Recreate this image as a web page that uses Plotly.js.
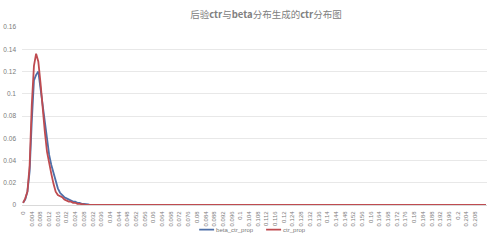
<!DOCTYPE html>
<html>
<head>
<meta charset="utf-8">
<script src="https://cdn.plot.ly/plotly-3.0.1.min.js"></script>
<style>
  html, body { margin: 0; padding: 0; background: #ffffff; }
  #chart { width: 488px; height: 243px; }
</style>
</head>
<body>
<div id="chart"></div>
<script>
// ctr buckets, 0.001 wide, from 0 to 0.213
const ctrBuckets = Array.from({ length: 214 }, (_, i) => +(i * 0.001).toFixed(3));

// labelled buckets on the horizontal axis
const tickLabels = [
  '0', '0.004', '0.008', '0.012', '0.016', '0.02', '0.024', '0.028', '0.032', '0.036',
  '0.04', '0.044', '0.048', '0.052', '0.056', '0.06', '0.064', '0.068', '0.072', '0.076',
  '0.08', '0.084', '0.088', '0.092', '0.096', '0.1', '0.104', '0.108', '0.112', '0.116',
  '0.12', '0.124', '0.128', '0.132', '0.136', '0.14', '0.144', '0.148', '0.152', '0.156',
  '0.16', '0.164', '0.168', '0.172', '0.176', '0.18', '0.184', '0.188', '0.192', '0.196',
  '0.2', '0.204', '0.208'
];
const tickValues = tickLabels.map(Number);

// share of samples in each bucket, beta-generated ctr
const betaCtrProp = [
  0.002, 0.005, 0.012, 0.030, 0.075, 0.112, 0.117, 0.120, 0.105, 0.090,
  0.073, 0.058, 0.045, 0.036, 0.029, 0.022, 0.015, 0.011, 0.009, 0.007,
  0.006, 0.005, 0.004, 0.003, 0.003, 0.002, 0.002, 0.001, 0.001, 0.001,
  0.0005, 0, 0, 0, 0, 0, 0, 0, 0, 0,
  0, 0, 0, 0, 0, 0, 0, 0, 0, 0, 0, 0, 0, 0, 0, 0, 0, 0, 0, 0,
  0, 0, 0, 0, 0, 0, 0, 0, 0, 0, 0, 0, 0, 0, 0, 0, 0, 0, 0, 0,
  0, 0, 0, 0, 0, 0, 0, 0, 0, 0, 0, 0, 0, 0, 0, 0, 0, 0, 0, 0,
  0, 0, 0, 0, 0, 0, 0, 0, 0, 0, 0, 0, 0, 0, 0, 0, 0, 0, 0, 0,
  0, 0, 0, 0, 0, 0, 0, 0, 0, 0, 0, 0, 0, 0, 0, 0, 0, 0, 0, 0,
  0, 0, 0, 0, 0, 0, 0, 0, 0, 0, 0, 0, 0, 0, 0, 0, 0, 0, 0, 0,
  0, 0, 0, 0, 0, 0, 0, 0, 0, 0, 0, 0, 0, 0, 0, 0, 0, 0, 0, 0,
  0, 0, 0, 0, 0, 0, 0, 0, 0, 0, 0, 0, 0, 0, 0, 0, 0, 0, 0, 0,
  0, 0, 0, 0, 0, 0, 0, 0, 0, 0, 0, 0, 0, 0, 0, 0, 0, 0, 0, 0,
  0, 0, 0, 0
];

// share of samples in each bucket, posterior ctr
const ctrProp = [
  0.002, 0.006, 0.012, 0.035, 0.090, 0.125, 0.136, 0.129, 0.110, 0.085,
  0.066, 0.048, 0.036, 0.028, 0.019, 0.012, 0.009, 0.008, 0.007, 0.005,
  0.004, 0.003, 0.003, 0.002, 0.002, 0.001, 0.001, 0.001, 0.0005, 0,
  0, 0, 0, 0, 0, 0, 0, 0, 0, 0,
  0, 0, 0, 0, 0, 0, 0, 0, 0, 0, 0, 0, 0, 0, 0, 0, 0, 0, 0, 0,
  0, 0, 0, 0, 0, 0, 0, 0, 0, 0, 0, 0, 0, 0, 0, 0, 0, 0, 0, 0,
  0, 0, 0, 0, 0, 0, 0, 0, 0, 0, 0, 0, 0, 0, 0, 0, 0, 0, 0, 0,
  0, 0, 0, 0, 0, 0, 0, 0, 0, 0, 0, 0, 0, 0, 0, 0, 0, 0, 0, 0,
  0, 0, 0, 0, 0, 0, 0, 0, 0, 0, 0, 0, 0, 0, 0, 0, 0, 0, 0, 0,
  0, 0, 0, 0, 0, 0, 0, 0, 0, 0, 0, 0, 0, 0, 0, 0, 0, 0, 0, 0,
  0, 0, 0, 0, 0, 0, 0, 0, 0, 0, 0, 0, 0, 0, 0, 0, 0, 0, 0, 0,
  0, 0, 0, 0, 0, 0, 0, 0, 0, 0, 0, 0, 0, 0, 0, 0, 0, 0, 0, 0,
  0, 0, 0, 0, 0, 0, 0, 0, 0, 0, 0, 0, 0, 0, 0, 0, 0, 0, 0, 0,
  0, 0, 0, 0
];

const seriesNames = ['beta_ctr_prop', 'ctr_prop'];
const chartTitle = '后验<b>ctr</b>与<b>beta</b>分布生成的<b>ctr</b>分布图';

const traces = [
  {
    x: ctrBuckets, y: betaCtrProp, name: seriesNames[0],
    type: 'scatter', mode: 'lines',
    line: { color: '#4e6fa8', width: 1.8, shape: 'linear' }
  },
  {
    x: ctrBuckets, y: ctrProp, name: seriesNames[1],
    type: 'scatter', mode: 'lines',
    line: { color: '#bf4b50', width: 1.8, shape: 'linear' }
  }
];

const labelFont = { family: 'Liberation Sans, Arial, sans-serif', size: 6, color: '#7a7a7a' };

const layout = {
  width: 488,
  height: 243,
  paper_bgcolor: '#ffffff',
  plot_bgcolor: '#ffffff',
  margin: { l: 22, r: 1, t: 27, b: 38, pad: 0 },
  title: {
    text: chartTitle,
    font: { family: 'Noto Sans CJK SC, sans-serif', size: 9.5, color: '#808080' },
    x: 0.545, xref: 'container', xanchor: 'center',
    y: 0.94, yref: 'container', yanchor: 'middle'
  },
  showlegend: true,
  legend: {
    orientation: 'h',
    x: 0.408, xref: 'container', xanchor: 'left',
    y: 0.055, yref: 'container', yanchor: 'middle',
    font: labelFont,
    bgcolor: 'rgba(0,0,0,0)',
    entrywidth: 22, entrywidthmode: 'pixels',
    tracegroupgap: 0
  },
  xaxis: {
    range: [-0.0005, 0.2135],
    tickmode: 'array', tickvals: tickValues, ticktext: tickLabels,
    tickangle: -90,
    tickfont: labelFont,
    ticks: '', ticklabelstandoff: 3,
    showgrid: false, zeroline: false,
    showline: true, linecolor: '#d9d9d9', linewidth: 1,
    fixedrange: true
  },
  yaxis: {
    range: [0, 0.16],
    tickmode: 'linear', tick0: 0, dtick: 0.02,
    tickfont: Object.assign({}, labelFont, { size: 6.5 }),
    ticks: '', ticklabelstandoff: 5,
    showgrid: true, gridcolor: '#e8e8e8', gridwidth: 1,
    zeroline: false, showline: false,
    fixedrange: true
  }
};

Plotly.newPlot('chart', traces, layout, { displayModeBar: false, staticPlot: true }).then(gd => {
  // shorter legend swatches, text pulled in next to them
  gd.querySelectorAll('.legend .legendlines path').forEach(p => p.setAttribute('d', 'M0,0h15'));
  gd.querySelectorAll('.legend .legendtext').forEach(t => t.setAttribute('x', '17'));
});
</script>
</body>
</html>
